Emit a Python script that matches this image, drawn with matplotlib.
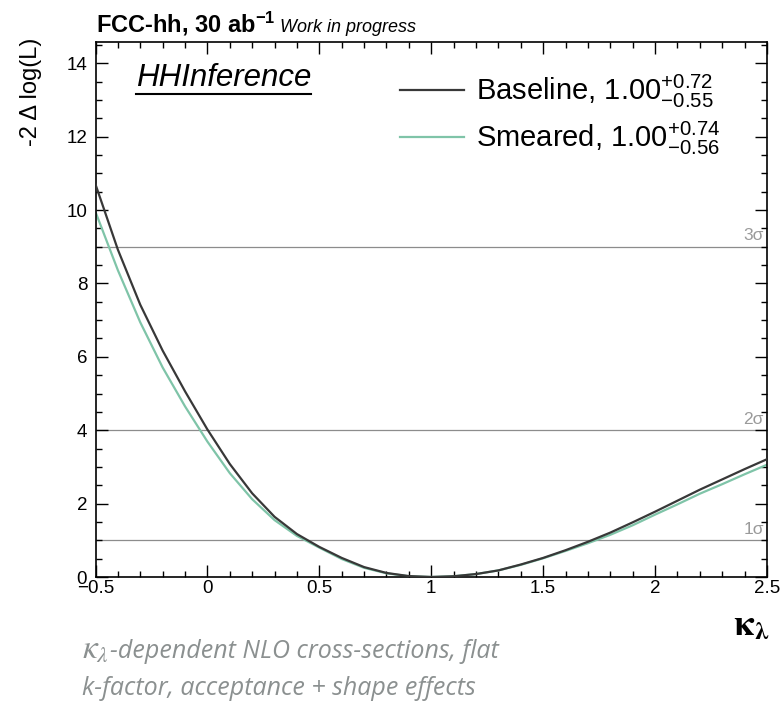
import matplotlib
matplotlib.use('Agg')
import matplotlib.pyplot as plt
from matplotlib.ticker import MultipleLocator

# kappa_lambda scan points and -2 delta log(L) values
kappa = [-0.5, -0.4, -0.3, -0.2, -0.1, 0.0, 0.1, 0.2, 0.3, 0.4, 0.5,
         0.6, 0.7, 0.8, 0.9, 1.0, 1.1, 1.2, 1.3, 1.4, 1.5,
         1.6, 1.7, 1.8, 1.9, 2.0, 2.1, 2.2, 2.3, 2.4, 2.5]
baseline = [10.70, 8.92, 7.42, 6.17, 5.06, 4.02, 3.08, 2.28, 1.64, 1.17, 0.82,
            0.52, 0.27, 0.11, 0.025, 0.00, 0.02, 0.08, 0.18, 0.34, 0.52,
            0.73, 0.96, 1.21, 1.49, 1.78, 2.08, 2.38, 2.66, 2.94, 3.21]
smeared = [9.95, 8.36, 6.94, 5.71, 4.65, 3.69, 2.83, 2.12, 1.55, 1.12, 0.80,
           0.49, 0.25, 0.10, 0.02, 0.00, 0.02, 0.08, 0.18, 0.33, 0.51,
           0.71, 0.92, 1.15, 1.41, 1.70, 1.98, 2.27, 2.53, 2.80, 3.06]
labels = ['Baseline, $1.00^{+0.72}_{-0.55}$', 'Smeared, $1.00^{+0.74}_{-0.56}$']

sigma_levels = [1, 4, 9]
sigma_labels = ['1σ', '2σ', '3σ']

plt.rcParams['font.family'] = ['Liberation Sans', 'DejaVu Sans']
plt.rcParams['mathtext.fontset'] = 'custom'
plt.rcParams['mathtext.rm'] = 'Liberation Sans'
plt.rcParams['mathtext.it'] = 'Liberation Sans:italic'
plt.rcParams['mathtext.bf'] = 'Liberation Sans:bold'

W, H = 780, 705


def px(x, y):
    # pixel position (from top-left) to figure fraction
    return x / W, 1 - y / H


fig = plt.figure(figsize=(7.8, 7.05), dpi=100)
ax = fig.add_axes([95.5 / W, 1 - 577 / H, (767 - 95.5) / W, (577 - 42) / H])

for lev, lab in zip(sigma_levels, sigma_labels):
    ax.axhline(lev, color='#8c8c8c', lw=0.9, zorder=1)
    ax.text(2.485, lev + 0.1, lab, color='#9a9a9a', fontsize=12.5,
            ha='right', va='bottom')

ax.plot(kappa, baseline, color='#383838', lw=1.6, label=labels[0], zorder=3)
ax.plot(kappa, smeared, color='#7fc4a8', lw=1.6, label=labels[1], zorder=2)

ax.set_xlim(-0.5, 2.5)
ax.set_ylim(0, 14.58)
ax.xaxis.set_minor_locator(MultipleLocator(0.1))
ax.yaxis.set_minor_locator(MultipleLocator(0.5))
ax.set_xticks([-0.5, 0, 0.5, 1, 1.5, 2, 2.5])
ax.set_xticklabels(['\u22120.5', '0', '0.5', '1', '1.5', '2', '2.5'])
ax.set_yticks([0, 2, 4, 6, 8, 10, 12, 14])
ax.set_yticklabels(['0', '2', '4', '6', '8', '10', '12', '14'])
ax.tick_params(which='both', direction='in', top=True, right=True,
               width=1.0, labelsize=13.5)
ax.tick_params(which='major', length=8.5)
ax.tick_params(which='minor', length=4.3)
ax.tick_params(axis='x', pad=2)
ax.tick_params(axis='y', pad=6)
for s in ax.spines.values():
    s.set_linewidth(1.2)

leg = ax.legend(loc='upper left', bbox_to_anchor=px(400, 73),
                bbox_transform=fig.transFigure, frameon=False, fontsize=21,
                handlelength=2.2, handletextpad=0.4, labelspacing=0.32,
                borderpad=0, borderaxespad=0)

# texts outside the frame
title = fig.text(*px(96, 32), 'FCC-hh, 30 ab$^{\\mathbf{-1}}$', fontsize=17,
                 fontweight='bold', va='baseline')
fig.text(*px(31, 38), '-2 Δ log(L)', fontsize=17, rotation=90,
         ha='center', va='top')
hh = fig.text(*px(136, 86), 'HHInference', fontsize=22.5, fontstyle='italic',
              va='baseline')
fig.text(*px(751, 626), r'$\mathbf{\kappa}_{\mathbf{\lambda}}$', fontsize=26,
         math_fontfamily='stix', ha='center', va='center')

note_color = '#8b9090'
note = ['-dependent NLO cross-sections, flat',
        'k-factor, acceptance + shape effects']
kap = fig.text(*px(82, 658), r'$\kappa_{\lambda}$',
               fontsize=24, color=note_color, math_fontfamily='stix')
fig.text(*px(82, 695), note[1], fontsize=18, family='Open Sans',
         fontstyle='italic', color=note_color)

fig.canvas.draw()
r = fig.canvas.get_renderer()
kb = kap.get_window_extent(r)
fig.text((kb.x1 + 1) / W, 1 - 658 / H, note[0], fontsize=18,
         family='Open Sans', fontstyle='italic', color=note_color)
tb = title.get_window_extent(r)
fig.text((tb.x1 + 5) / W, 1 - 32 / H, 'Work in progress', fontsize=13,
         fontstyle='italic', va='baseline')
hb = hh.get_window_extent(r)
fig.add_artist(plt.Line2D([hb.x0 / W, hb.x1 / W], [1 - 94 / H, 1 - 94 / H],
                          color='black', lw=1.5))

fig.savefig('out.png', dpi=100)
